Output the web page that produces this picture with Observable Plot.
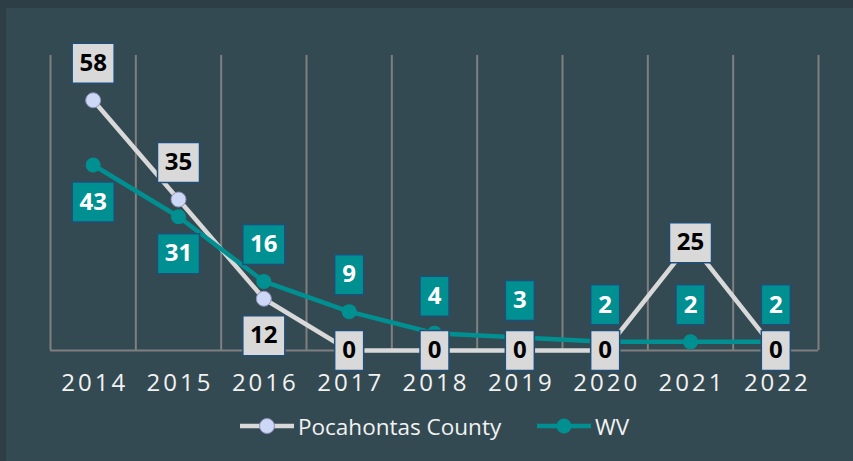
<!DOCTYPE html>
<html>
<head>
<meta charset="utf-8">
<script src="https://cdn.jsdelivr.net/npm/d3@7"></script>
<script src="https://cdn.jsdelivr.net/npm/@observablehq/plot@0.6"></script>
<style>
  html, body { margin: 0; padding: 0; background: #2e3e46; width: 853px; height: 461px; overflow: hidden; }
  #panel { position: absolute; left: 6px; top: 8px; width: 847px; height: 453px; background: #344a52; }
  #chart { position: absolute; left: 0; top: 0; }
  .leg { position: absolute; top: 403px; height: 30px; display: flex; align-items: center;
         font-family: "Open Sans", sans-serif; font-size: 22.5px; color: #f2f2f2; }
  .leg svg { display: block; margin-right: 4px; }
</style>
</head>
<body>
<div id="panel">
  <div id="chart"></div>
  <div class="leg" id="leg1"></div>
  <div class="leg" id="leg2"></div>
</div>
<script>
// ---- data ----
const years = [2014, 2015, 2016, 2017, 2018, 2019, 2020, 2021, 2022];
const pocahontas = [58, 35, 12, 0, 0, 0, 0, 25, 0];
const wv = [43, 31, 16, 9, 4, 3, 2, 2, 2];
const pocaLabelPos = ["above", "above", "below", "center", "center", "center", "center", "center", "center"];
const wvLabelPos = ["below", "below", "above", "above", "above", "above", "above", "above", "above"];
const seriesNames = ["Pocahontas County", "WV"];

const FONT = "'Open Sans', sans-serif";
const pColor = "#d9d9d9", pMarkFill = "#cdd8f6", pMarkStroke = "#8e92b8";
const tColor = "#009091";
const boxStroke = "#1f4e79";
const gridColor = "#7f7f7f";

const pRows = years.map((y, i) => ({i, year: y, value: pocahontas[i], pos: pocaLabelPos[i]}));
const wRows = years.map((y, i) => ({i, year: y, value: wv[i], pos: wvLabelPos[i]}));
const boundaries = d3.range(years.length + 1).map(k => k - 0.5);

function rectSymbol(w, h) {
  return { draw(ctx) { ctx.rect(-w / 2, -h / 2, w, h); } };
}
const DY = {above: -37, below: 37, center: 0};

function labelMarks(rows, boxFill, textFill) {
  const marks = [];
  for (const pos of ["above", "below", "center"]) {
    for (const wide of [false, true]) {
      const sub = rows.filter(d => d.pos === pos && (String(d.value).length > 1) === wide);
      if (!sub.length) continue;
      marks.push(Plot.dot(sub, {
        x: "i", y: "value", dy: DY[pos], r: 10,
        symbol: rectSymbol(wide ? 42 : 29, 40),
        fill: boxFill, stroke: boxStroke, strokeWidth: 1.5
      }));
      marks.push(Plot.text(sub, {
        x: "i", y: "value", dy: DY[pos], text: d => String(d.value),
        fill: textFill, fontSize: 24, fontWeight: "bold", fontFamily: FONT
      }));
    }
  }
  return marks;
}

const chart = Plot.plot({
  width: 847, height: 400,
  marginLeft: 44, marginRight: 35, marginTop: 40, marginBottom: 58,
  style: {background: "transparent", overflow: "visible"},
  x: {type: "linear", domain: [-0.5, years.length - 0.5], axis: null},
  y: {domain: [0, 70], axis: null},
  marks: [
    Plot.ruleX(boundaries, {y1: 0, y2: 70, stroke: gridColor, strokeWidth: 2, insetBottom: -7}),
    Plot.ruleY([0], {stroke: gridColor, strokeWidth: 2}),
    Plot.text(years, {
      x: (d, i) => i, y: 0, dy: 33, dx: 1.5, text: d => String(d),
      fill: "#f2f2f2", fontSize: 24, fontFamily: FONT
    }),
    Plot.line(pRows, {x: "i", y: "value", stroke: pColor, strokeWidth: 4.5}),
    Plot.dot(pRows, {x: "i", y: "value", r: 7.5, fill: pMarkFill, stroke: pMarkStroke, strokeWidth: 1}),
    Plot.line(wRows, {x: "i", y: "value", stroke: tColor, strokeWidth: 4.5}),
    Plot.dot(wRows, {x: "i", y: "value", r: 7.5, fill: tColor}),
    ...labelMarks(pRows, "#d9d9d9", "#000000"),
    ...labelMarks(wRows, tColor, "#ffffff")
  ]
});
// letter-spacing for the year tick labels (first text mark)
const yearGroup = chart.querySelector('g[aria-label="text"]');
if (yearGroup) yearGroup.style.letterSpacing = "3px";
document.getElementById("chart").appendChild(chart);

function swatch(color, markFill, markStroke) {
  return `<svg width="54" height="18"><line x1="0" y1="9" x2="54" y2="9" stroke="${color}" stroke-width="4.5"/>` +
    `<circle cx="27" cy="9" r="7.5" fill="${markFill}" ${markStroke ? `stroke="${markStroke}" stroke-width="1"` : ""}/></svg>`;
}
const l1 = document.getElementById("leg1");
l1.style.left = "234px";
l1.innerHTML = swatch(pColor, pMarkFill, pMarkStroke) + `<span>${seriesNames[0]}</span>`;
const l2 = document.getElementById("leg2");
l2.style.left = "531px";
l2.innerHTML = swatch(tColor, tColor, null) + `<span>${seriesNames[1]}</span>`;
</script>
</body>
</html>
